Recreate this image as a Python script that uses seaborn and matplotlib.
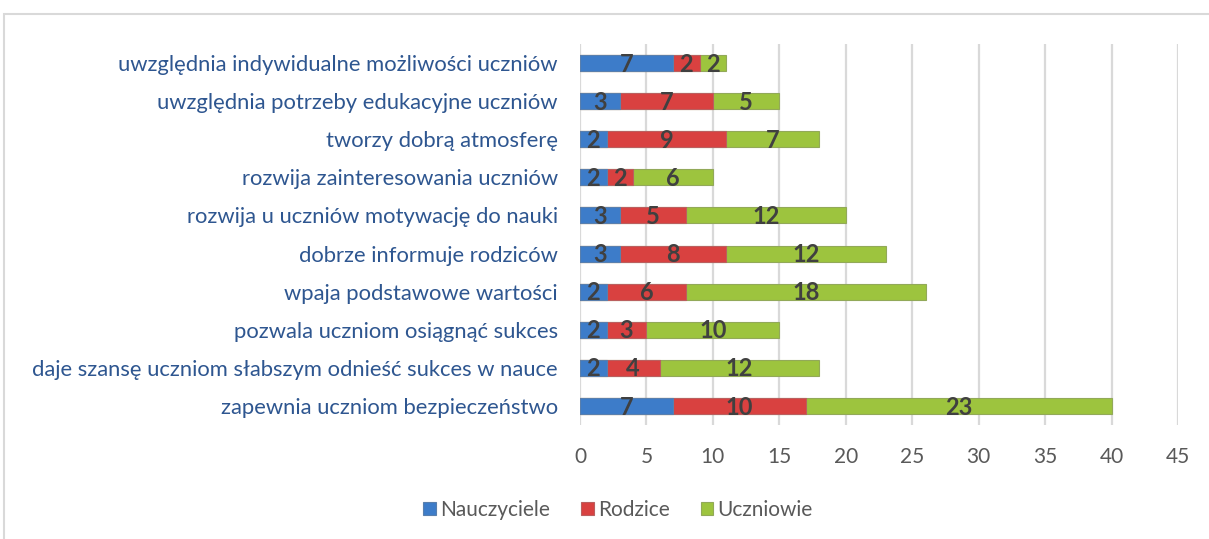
import pandas as pd
import numpy as np
import matplotlib
matplotlib.use("Agg")
import matplotlib.pyplot as plt
import seaborn as sns
from matplotlib.patches import Rectangle

# data (top to bottom)
categories = [
    "uwzględnia indywidualne możliwości uczniów",
    "uwzględnia potrzeby edukacyjne uczniów",
    "tworzy dobrą atmosferę",
    "rozwija zainteresowania uczniów",
    "rozwija u uczniów motywację do nauki",
    "dobrze informuje rodziców",
    "wpaja podstawowe wartości",
    "pozwala uczniom osiągnąć sukces",
    "daje szansę uczniom słabszym odnieść sukces w nauce",
    "zapewnia uczniom bezpieczeństwo",
]
nauczyciele = [7, 3, 2, 2, 3, 3, 2, 2, 2, 7]
rodzice = [2, 7, 9, 2, 5, 8, 6, 3, 4, 10]
uczniowie = [2, 5, 7, 6, 12, 12, 18, 10, 12, 23]
series_names = ["Nauczyciele", "Rodzice", "Uczniowie"]
x_ticks = [0, 5, 10, 15, 20, 25, 30, 35, 40, 45]

colors = ["#3D7CC9", "#D94140", "#9DC43E"]

df = pd.DataFrame({"kat": categories, "Nauczyciele": nauczyciele,
                   "Rodzice": rodzice, "Uczniowie": uczniowie})
df["cum1"] = df["Nauczyciele"]
df["cum2"] = df["cum1"] + df["Rodzice"]
df["cum3"] = df["cum2"] + df["Uczniowie"]

sns.set_theme(style="white")
plt.rcParams["font.family"] = ["Lato", "DejaVu Sans"]

fig = plt.figure(figsize=(12.09, 5.39), dpi=100)
ax = fig.add_axes([580 / 1209, 1 - 425 / 539, (1178 - 580) / 1209, (425 - 44) / 539])

# stacked bars: draw cumulative totals from the back to the front
for col, c, name in zip(["cum3", "cum2", "cum1"], colors[::-1], series_names[::-1]):
    sns.barplot(data=df, x=col, y="kat", orient="h", color=c, width=0.42,
                edgecolor=sns.desaturate(c, 0.6), linewidth=0.8,
                saturation=1, ax=ax, label=name, zorder=3)

# value labels in the middle of each segment
for i, row in df.iterrows():
    starts = [0, row["cum1"], row["cum2"]]
    for s, v in zip(starts, [row["Nauczyciele"], row["Rodzice"], row["Uczniowie"]]):
        ax.text(s + v / 2, i + 0.03, str(v), ha="center", va="center",
                fontsize=17, fontweight="bold", color="#404040", zorder=5)

ax.set_xlim(0, 45)
ax.set_ylim(9.5, -0.5)
ax.set_xticks(x_ticks)
ax.xaxis.grid(True, color="#D9D9D9", linewidth=1.6, zorder=0)
ax.yaxis.grid(False)
ax.set_axisbelow(True)
for sp in ax.spines.values():
    sp.set_visible(False)
ax.set_xlabel("")
ax.set_ylabel("")
ax.tick_params(axis="x", length=0, pad=16, labelsize=15, labelcolor="#595959")
ax.tick_params(axis="y", length=0, pad=16, labelsize=15.8, labelcolor="#2E5690")

handles, labels = ax.get_legend_handles_labels()
if ax.get_legend() is not None:
    ax.get_legend().remove()
order = [labels.index(n) for n in series_names]
fig.legend([handles[k] for k in order], series_names, loc="center",
           bbox_to_anchor=(618 / 1209, 1 - 510 / 539), ncol=3, frameon=False,
           fontsize=15, labelcolor="#595959", handlelength=0.6, handleheight=0.6,
           handletextpad=0.2, columnspacing=1.5)

# light outer chart frame
fig.patches.append(Rectangle((4 / 1209, -0.1), 1.2, 1.1 - 14 / 539, transform=fig.transFigure,
                             fill=False, edgecolor="#D9D9D9", linewidth=1.5, zorder=0))

fig.savefig("out.png", dpi=100)
